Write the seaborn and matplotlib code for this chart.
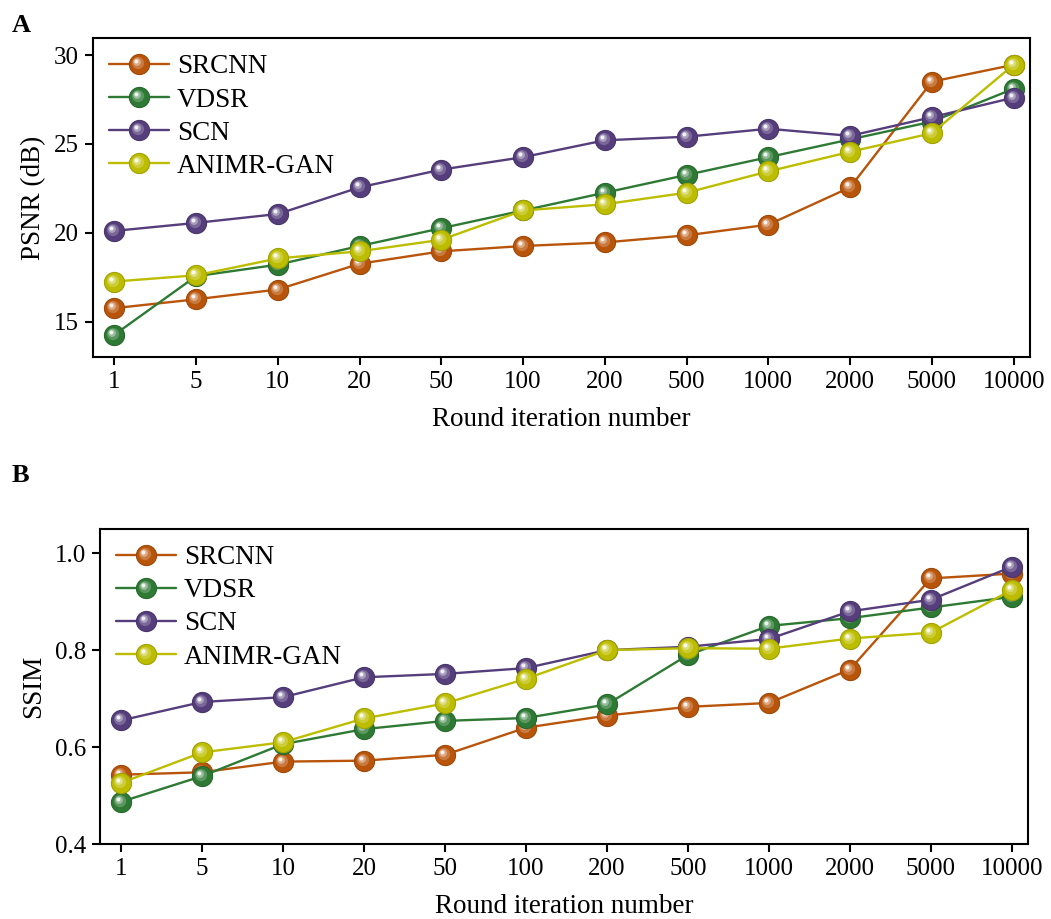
import numpy as np
import pandas as pd
import matplotlib
matplotlib.use("Agg")
import matplotlib.pyplot as plt
import seaborn as sns
from matplotlib.path import Path
from matplotlib.markers import MarkerStyle
from matplotlib.lines import Line2D
from matplotlib.legend_handler import HandlerTuple
from matplotlib.colors import to_rgb

# ---------------- data ----------------
iterations = ["1", "5", "10", "20", "50", "100", "200", "500", "1000", "2000", "5000", "10000"]
methods = ["SRCNN", "VDSR", "SCN", "ANIMR-GAN"]

psnr_srcnn = [15.75, 16.25, 16.8, 18.25, 18.95, 19.25, 19.45, 19.85, 20.45, 22.55, 28.5, 29.45]
psnr_vdsr = [14.25, 17.55, 18.2, 19.25, 20.25, 21.25, 22.25, 23.25, 24.25, 25.25, 26.25, 28.1]
psnr_scn = [20.1, 20.55, 21.05, 22.55, 23.55, 24.25, 25.2, 25.4, 25.85, 25.45, 26.5, 27.6]
psnr_gan = [17.25, 17.6, 18.55, 18.95, 19.6, 21.25, 21.6, 22.25, 23.45, 24.55, 25.6, 29.45]

ssim_srcnn = [0.543, 0.548, 0.570, 0.572, 0.584, 0.640, 0.665, 0.683, 0.691, 0.760, 0.948, 0.958]
ssim_vdsr = [0.487, 0.540, 0.606, 0.637, 0.654, 0.660, 0.688, 0.790, 0.850, 0.866, 0.888, 0.910]
ssim_scn = [0.655, 0.693, 0.703, 0.744, 0.751, 0.763, 0.800, 0.807, 0.823, 0.880, 0.904, 0.972]
ssim_gan = [0.526, 0.589, 0.610, 0.659, 0.690, 0.741, 0.800, 0.804, 0.803, 0.824, 0.836, 0.924]

colors = ["#B9550A", "#2E7A34", "#553E7B", "#BDBD00"]

psnr = [psnr_srcnn, psnr_vdsr, psnr_scn, psnr_gan]
ssim = [ssim_srcnn, ssim_vdsr, ssim_scn, ssim_gan]

# ---------------- style ----------------
sns.set_style("ticks")
plt.rcParams["font.family"] = ["Liberation Serif", "DejaVu Serif"]
plt.rcParams["mathtext.fontset"] = "stix"
for key in ["text.color", "axes.labelcolor", "xtick.color", "ytick.color", "axes.edgecolor"]:
    plt.rcParams[key] = "black"

MS = 14.5
LW = 1.7


def mix(c, w):
    r, g, b = to_rgb(c)
    return (r + (1 - r) * w, g + (1 - g) * w, b + (1 - b) * w)


def darker(c, f):
    r, g, b = to_rgb(c)
    return (r * f, g * f, b * f)


def offset_circle(cx, cy, rad):
    """circle path in units of marker diameter; returns (MarkerStyle, scale)"""
    circ = Path.circle((cx, cy), rad)
    verts = circ.vertices
    m = np.max(np.abs(verts))
    return MarkerStyle(circ), m / 0.5


highlights = [
    (offset_circle(-0.07, 0.07, 0.30), 0.22),
    (offset_circle(-0.12, 0.12, 0.19), 0.50),
    (offset_circle(-0.15, 0.15, 0.10), 0.92),
]


def draw_panel(ax, values, ylabel, ylim, yticks, ytlabels):
    x = np.arange(len(iterations))
    handles = []
    for i, (name, vals, col) in enumerate(zip(methods, values, colors)):
        df = pd.DataFrame({"pos": x, "val": vals})
        z = 3 + 4 * i
        sns.lineplot(data=df, x="pos", y="val", ax=ax, color=col, linewidth=LW,
                     marker="o", markersize=MS, markeredgecolor=darker(col, 0.85),
                     markeredgewidth=0.8, zorder=z, legend=False)
        base = ax.lines[-1]
        base.set_zorder(z)
        hl = []
        for k, ((mk, sc), w) in enumerate(highlights):
            ax.plot(x, vals, linestyle="none", marker=mk, markersize=MS * sc,
                    markerfacecolor=mix(col, w), markeredgewidth=0,
                    zorder=z + 0.2 * (k + 1))
            hl.append(Line2D([], [], linestyle="none", marker=mk, markersize=MS * sc,
                             markerfacecolor=mix(col, w), markeredgewidth=0))
        h_base = Line2D([], [], color=col, linewidth=LW, marker="o", markersize=MS,
                        markeredgecolor=darker(col, 0.85), markeredgewidth=0.8)
        handles.append(tuple([h_base] + hl))

    ax.set_xlim(-0.26, 11.2)
    ax.set_ylim(*ylim)
    ax.set_xticks(x)
    ax.set_xticklabels(iterations)
    ax.set_yticks(yticks)
    ax.set_yticklabels(ytlabels)
    ax.set_xlabel("Round iteration number", fontsize=19.5, labelpad=10)
    ax.set_ylabel(ylabel, fontsize=19.5, labelpad=6)
    ax.tick_params(axis="both", labelsize=18, length=6, width=1.5, direction="out",
                   pad=4, colors="black")
    for s in ax.spines.values():
        s.set_visible(True)
        s.set_linewidth(1.5)
        s.set_color("black")
    ax.legend(handles, methods, loc="upper left", frameon=False, fontsize=19.5,
              handler_map={tuple: HandlerTuple(ndivide=1, pad=0)},
              handlelength=2.2, handletextpad=0.3, labelspacing=0.3,
              borderaxespad=0.3, borderpad=0.3)


fig = plt.figure(figsize=(10.51, 9.19), dpi=100)
ax1 = fig.add_axes([0.0885, 0.6115, 0.8915, 0.347])
ax2 = fig.add_axes([0.0951, 0.0816, 0.883, 0.3428])

draw_panel(ax1, psnr, "PSNR (dB)", (13.0, 30.95), [15, 20, 25, 30], ["15", "20", "25", "30"])
draw_panel(ax2, ssim, "SSIM", (0.4, 1.05), [0.4, 0.6, 0.8, 1.0], ["0.4", "0.6", "0.8", "1.0"])

fig.text(0.011, 1 - 25 / 919, "A", fontsize=19, fontweight="bold", va="center", ha="left")
fig.text(0.011, 1 - 476 / 919, "B", fontsize=19, fontweight="bold", va="center", ha="left")

fig.savefig("out.png", dpi=100)
